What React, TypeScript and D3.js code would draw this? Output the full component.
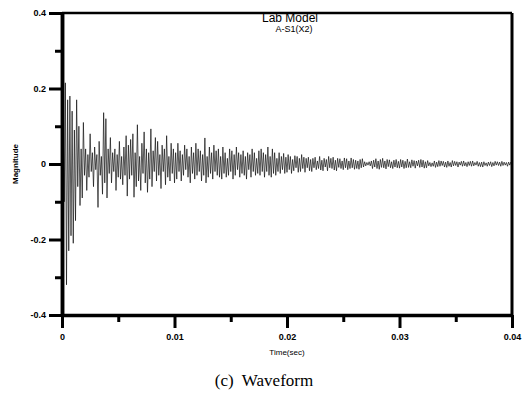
import { useEffect, useRef } from "react"
import * as d3 from "d3"

// sampled magnitude in thousandths, one sample every 0.1 ms
const magnitude = [
  0, 120, -100, 215, -320, 170, -230, 180, -190, 140, -210, 90, -150, 170, -60, 100, -110, 40, -90, 110,
  -30, 40, -70, 25, -35, 80, -20, 30, -60, 45, -15, 25, -115, 60, -30, 20, -80, 136, -50, 120,
  -90, 40, -25, 70, -50, 30, -20, 40, -70, 25, -35, 60, -40, 20, -55, 45, -30, 75, -85, 50,
  -40, 65, -30, 80, -88, 30, -60, 104, -45, 20, -70, 55, -25, 85, -50, 40, -75, 30, -40, 93,
  -60, 35, -20, 70, -45, 60, -30, 25, -65, 50, -20, 40, -55, 75, -35, 20, -45, 55, -25, 40,
  -50, 30, -40, 55, -20, 35, -45, 25, -30, 50, -15, 40, -35, 20, -50, 45, -25, 30, -40, 55,
  -30, 40, -20, 35, -45, 25, -30, 69, -50, 20, -35, 45, -25, 30, -40, 50, -20, 35, -30, 40,
  -35, 20, -40, 45, -25, 30, -35, 15, -30, 40, -20, 35, -40, 25, -30, 45, -15, 30, -35, 25,
  -25, 35, -30, 20, -40, 30, -15, 25, -35, 40, -20, 30, -30, 15, -25, 35, -30, 40, -20, 30,
  -35, 25, -20, 45, -30, 20, -35, 40, -25, 30, -30, 15, -20, 30, -25, 20, -15, 28, -25, 18,
  -22, 25, -15, 20, -25, 12, -18, 22, -10, 20, -22, 15, -20, 25, -12, 18, -22, 15, -10, 18,
  -18, 12, -20, 15, -10, 18, -15, 8, -12, 20, -16, 10, -18, 15, -8, 12, -18, 20, -10, 15,
  -12, 18, -16, 10, -18, 15, -9, 14, -12, 8, -15, 16, -10, 14, -15, 8, -12, 16, -10, 12,
  -14, 10, -12, 8, -14, 12, -10, 14, -8, 6, -5, 4, -3, 6, -5, 8, -12, 10, -8, 14,
  -12, 8, -14, 12, -9, 15, -10, 8, -13, 12, -7, 11, -10, 6, -12, 10, -8, 12, -10, 7,
  -11, 12, -8, 10, -12, 7, -10, 13, -9, 6, -10, 11, -6, 9, -11, 8, -5, 10, -9, 12,
  -8, 10, -11, 6, -10, 9, -5, 4, -7, 3, -6, 8, -9, 5, -7, 9, -6, 8, -4, 7,
  -8, 5, -9, 8, -6, 4, -8, 9, -5, 7, -4, 6, -8, 5, -3, 7, -6, 8, -5, 4,
  -7, 6, -4, 7, -6, 8, -5, 4, -3, 7, -6, 4, -7, 5, -8, 6, -4, 3, -6, 5,
  -4, 6, -7, 4, -5, 7, -3, 6, -4, 5, -6, 7, -4, 5, -3, 4, -6, 5, -3, 5, 0,
]
const timeStep = 0.0001

const xTicks = [0, 0.01, 0.02, 0.03, 0.04]
const xTickLabels = ["0", "0.01", "0.02", "0.03", "0.04"]
const xMinorTicks = [0.005, 0.015, 0.025, 0.035]
const yTicks = [-0.4, -0.2, 0, 0.2, 0.4]
const yTickLabels = ["-0.4", "-0.2", "0", "0.2", "0.4"]
const yMinorTicks = [-0.3, -0.1, 0.1, 0.3]

export default function App() {
  const svgRef = useRef<SVGSVGElement>(null)

  useEffect(() => {
    if (!svgRef.current) return
    const width = 527
    const height = 398
    const margin = { top: 13, right: 15, bottom: 83, left: 62 }
    const innerWidth = width - margin.left - margin.right
    const innerHeight = height - margin.top - margin.bottom

    const svg = d3.select(svgRef.current).attr("width", width).attr("height", height)
    svg.selectAll("*").remove()
    svg.append("rect").attr("width", width).attr("height", height).attr("fill", "#fff")

    const g = svg.append("g").attr("transform", `translate(${margin.left},${margin.top})`)

    const xScale = d3.scaleLinear().domain([0, 0.04]).range([0, innerWidth])
    const yScale = d3.scaleLinear().domain([-0.4, 0.4]).range([innerHeight, 0])

    const data = magnitude.map((m, i) => ({ t: i * timeStep, v: m / 1000 }))

    const line = d3
      .line<{ t: number; v: number }>()
      .x((d) => xScale(d.t))
      .y((d) => yScale(d.v))

    g.append("path")
      .datum(data)
      .attr("fill", "none")
      .attr("stroke", "#111")
      .attr("stroke-width", 0.7)
      .attr("d", line)

    const font = "Arial, 'Liberation Sans', sans-serif"

    // frame top and right
    g.append("line").attr("x1", 0).attr("x2", innerWidth).attr("y1", 0).attr("y2", 0)
      .attr("stroke", "#000").attr("stroke-width", 2.5)
    g.append("line").attr("x1", innerWidth).attr("x2", innerWidth).attr("y1", 0).attr("y2", innerHeight)
      .attr("stroke", "#000").attr("stroke-width", 3)

    const styleAxis = (sel: d3.Selection<SVGGElement, unknown, null, undefined>, w: number) => {
      sel.select(".domain").attr("stroke", "#000").attr("stroke-width", w)
      sel.selectAll(".tick line").attr("stroke", "#000").attr("stroke-width", 3)
      sel.selectAll(".tick text")
        .attr("fill", "#000")
        .attr("font-family", font)
        .attr("font-weight", "bold")
        .attr("font-size", 9)
    }

    const xMinor = g.append("g").attr("transform", `translate(0,${innerHeight})`)
      .call(d3.axisBottom(xScale).tickValues(xMinorTicks).tickSize(7).tickSizeOuter(0).tickFormat(() => ""))
    styleAxis(xMinor, 3)

    const xAxis = g.append("g").attr("transform", `translate(0,${innerHeight})`)
      .call(
        d3.axisBottom(xScale).tickValues(xTicks).tickSize(13).tickSizeOuter(0).tickPadding(6)
          .tickFormat((_, i) => xTickLabels[i])
      )
    styleAxis(xAxis, 3.5)

    const yMinor = g.append("g")
      .call(d3.axisLeft(yScale).tickValues(yMinorTicks).tickSize(7).tickSizeOuter(0).tickFormat(() => ""))
    styleAxis(yMinor, 3.5)

    const yAxis = g.append("g")
      .call(
        d3.axisLeft(yScale).tickValues(yTicks).tickSize(13).tickSizeOuter(0).tickPadding(3)
          .tickFormat((_, i) => yTickLabels[i])
      )
    styleAxis(yAxis, 3.5)

    // titles
    svg.append("text").attr("x", 290).attr("y", 22).attr("text-anchor", "middle")
      .attr("font-family", font).attr("font-size", 12).text("Lab Model")
    svg.append("text").attr("x", 294).attr("y", 32).attr("text-anchor", "middle")
      .attr("font-family", font).attr("font-size", 9).text("A-S1(X2)")

    svg.append("text")
      .attr("transform", `translate(18,${yScale(0) + margin.top}) rotate(-90)`)
      .attr("text-anchor", "middle")
      .attr("font-family", font).attr("font-size", 8).attr("font-weight", "bold").text("Magnitude")

    svg.append("text").attr("x", margin.left + xScale(0.02)).attr("y", 355).attr("text-anchor", "middle")
      .attr("font-family", font).attr("font-size", 8).text("Time(sec)")

    svg.append("text").attr("x", 264).attr("y", 386).attr("text-anchor", "middle")
      .attr("font-family", "'Liberation Serif', 'Times New Roman', serif").attr("font-size", 17)
      .attr("xml:space", "preserve").style("white-space", "pre")
      .text("(c)  Waveform")
  }, [])

  return <svg ref={svgRef} style={{ position: "absolute", left: 0, top: 0, display: "block" }} />
}
